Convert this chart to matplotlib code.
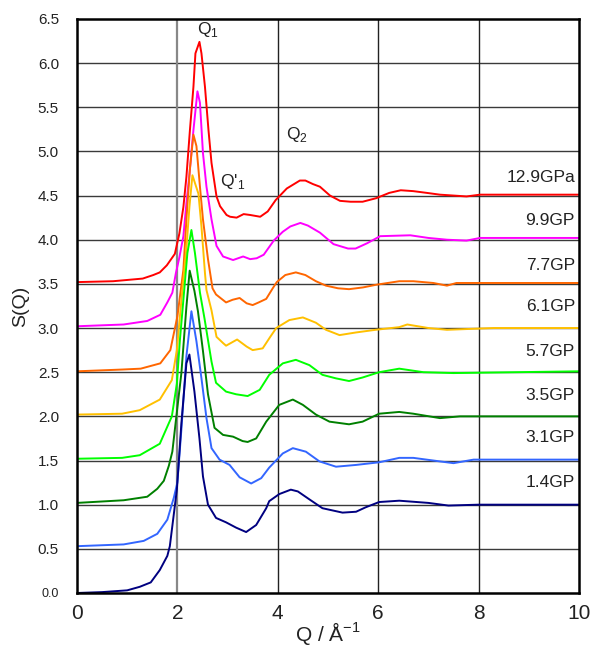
import numpy as np
import matplotlib
matplotlib.use('Agg')
import matplotlib.pyplot as plt

plt.rcParams['font.family'] = ['Liberation Sans Narrow', 'Liberation Sans', 'DejaVu Sans']
plt.rcParams['mathtext.fontset'] = 'custom'
plt.rcParams['mathtext.rm'] = 'Liberation Sans'

# S(Q) curves (already shifted by 0.5 per pressure)
q_129 = [0, 0.72, 1.31, 1.52, 1.65, 1.79, 1.95, 2.04, 2.12, 2.18, 2.25, 2.32, 2.36, 2.44, 2.48, 2.55, 2.62, 2.68,
         2.78, 2.85, 2.98, 3.05, 3.18, 3.32, 3.45, 3.65, 3.80, 3.96, 4.18, 4.44, 4.55, 4.70, 4.84, 5.04, 5.24,
         5.45, 5.69, 5.96, 6.22, 6.45, 6.7, 6.97, 7.23, 7.50, 7.76, 8.03, 10.0]
s_129 = [3.52, 3.53, 3.56, 3.60, 3.63, 3.71, 3.84, 4.07, 4.37, 4.71, 5.24, 5.73, 6.11, 6.24, 6.11, 5.73, 5.24, 4.87,
         4.49, 4.38, 4.28, 4.26, 4.25, 4.29, 4.28, 4.26, 4.32, 4.45, 4.58, 4.67, 4.67, 4.63, 4.60, 4.50, 4.44,
         4.43, 4.43, 4.47, 4.53, 4.56, 4.55, 4.53, 4.51, 4.50, 4.49, 4.51, 4.51]

q_99 = [0, 0.93, 1.40, 1.66, 1.80, 1.90, 1.97, 2.04, 2.12, 2.18, 2.25, 2.32, 2.40, 2.45, 2.51, 2.58, 2.68, 2.78,
        2.91, 3.11, 3.31, 3.45, 3.58, 3.72, 3.92, 4.10, 4.25, 4.45, 4.60, 4.84, 5.11, 5.40, 5.55, 5.78, 6.04,
        6.64, 7.0, 7.37, 7.76, 8.03, 10.0]
s_99 = [3.02, 3.04, 3.08, 3.15, 3.29, 3.40, 3.62, 3.80, 4.04, 4.41, 4.80, 5.24, 5.68, 5.55, 4.98, 4.60, 4.23, 3.93,
        3.81, 3.77, 3.81, 3.78, 3.79, 3.83, 3.99, 4.09, 4.15, 4.19, 4.16, 4.08, 3.95, 3.90, 3.90, 3.96, 4.04,
        4.05, 4.02, 4.00, 3.99, 4.02, 4.02]

q_77 = [0, 0.9, 1.27, 1.66, 1.86, 2.0, 2.12, 2.18, 2.25, 2.32, 2.38, 2.45, 2.51, 2.61, 2.70, 2.77, 2.97, 3.10,
        3.24, 3.38, 3.50, 3.62, 3.77, 3.90, 3.98, 4.15, 4.36, 4.55, 4.76, 4.96, 5.20, 5.42, 5.70, 5.96, 6.42,
        6.70, 7.10, 7.37, 7.56, 10.0]
s_77 = [2.51, 2.53, 2.54, 2.60, 2.75, 3.13, 3.66, 4.23, 4.80, 5.19, 5.06, 4.60, 4.23, 3.78, 3.45, 3.38, 3.29, 3.32,
        3.34, 3.28, 3.26, 3.29, 3.33, 3.45, 3.52, 3.60, 3.63, 3.60, 3.53, 3.48, 3.45, 3.44, 3.46, 3.49, 3.53,
        3.53, 3.51, 3.48, 3.51, 3.51]

q_61 = [0, 0.9, 1.25, 1.65, 1.89, 1.99, 2.05, 2.12, 2.18, 2.24, 2.30, 2.42, 2.48, 2.55, 2.58, 2.68, 2.78, 2.91,
        2.97, 3.19, 3.38, 3.50, 3.70, 3.85, 3.97, 4.23, 4.50, 4.76, 4.96, 5.23, 5.56, 5.95, 6.42, 6.58, 7.0,
        7.37, 8.3, 10.0]
s_61 = [2.02, 2.03, 2.07, 2.19, 2.41, 2.75, 3.13, 3.55, 3.90, 4.37, 4.73, 4.52, 4.15, 3.62, 3.43, 3.20, 2.90, 2.83,
        2.80, 2.87, 2.79, 2.75, 2.77, 2.90, 3.00, 3.09, 3.12, 3.06, 2.98, 2.92, 2.95, 2.98, 3.01, 3.04, 3.00,
        2.98, 3.00, 3.00]

q_57 = [0, 0.9, 1.25, 1.65, 1.89, 1.99, 2.05, 2.12, 2.20, 2.28, 2.35, 2.45, 2.54, 2.68, 2.77, 2.97, 3.17, 3.40,
        3.64, 3.83, 4.10, 4.36, 4.63, 4.89, 5.16, 5.42, 5.69, 6.02, 6.42, 6.9, 7.5, 10.0]
s_57 = [1.52, 1.53, 1.56, 1.69, 2.00, 2.37, 2.86, 3.32, 3.85, 4.11, 3.85, 3.40, 3.11, 2.62, 2.38, 2.28, 2.25, 2.23,
        2.30, 2.47, 2.60, 2.64, 2.58, 2.47, 2.43, 2.40, 2.44, 2.50, 2.54, 2.50, 2.49, 2.51]

q_35 = [0, 0.93, 1.40, 1.60, 1.73, 1.83, 1.90, 1.96, 2.08, 2.18, 2.245, 2.34, 2.41, 2.51, 2.61, 2.74, 2.91, 3.11,
        3.30, 3.40, 3.57, 3.77, 4.03, 4.30, 4.50, 4.76, 5.03, 5.42, 5.69, 6.02, 6.42, 6.7, 7.23, 7.63, 10.0]
s_35 = [1.02, 1.05, 1.09, 1.18, 1.27, 1.44, 1.60, 1.90, 2.49, 3.24, 3.65, 3.42, 3.19, 2.74, 2.25, 1.87, 1.79, 1.77,
        1.72, 1.71, 1.75, 1.94, 2.13, 2.19, 2.13, 2.02, 1.94, 1.91, 1.94, 2.03, 2.05, 2.03, 1.98, 2.00, 2.00]

q_31 = [0, 0.93, 1.33, 1.60, 1.80, 1.93, 2.0, 2.08, 2.18, 2.28, 2.38, 2.48, 2.58, 2.68, 2.84, 3.04, 3.24, 3.47,
        3.67, 3.83, 4.10, 4.30, 4.56, 4.83, 5.16, 5.56, 6.02, 6.42, 6.7, 7.23, 7.5, 7.9, 10.0]
s_31 = [0.53, 0.55, 0.59, 0.67, 0.83, 1.08, 1.25, 1.85, 2.68, 3.19, 2.85, 2.43, 1.98, 1.64, 1.51, 1.45, 1.31, 1.24,
        1.30, 1.42, 1.58, 1.64, 1.60, 1.49, 1.43, 1.45, 1.48, 1.53, 1.53, 1.49, 1.47, 1.51, 1.51]

q_14 = [0, 0.5, 1.0, 1.25, 1.47, 1.65, 1.80, 1.85, 1.99, 2.08, 2.18, 2.24, 2.34, 2.44, 2.51, 2.61, 2.77, 2.97,
        3.17, 3.37, 3.57, 3.77, 3.83, 4.03, 4.26, 4.40, 4.63, 4.89, 5.29, 5.56, 5.75, 6.02, 6.42, 7.0, 7.4,
        8.0, 10.0]
s_14 = [0.0, 0.01, 0.03, 0.07, 0.12, 0.26, 0.42, 0.53, 1.17, 1.92, 2.60, 2.70, 2.28, 1.75, 1.32, 1.00, 0.85, 0.80,
        0.74, 0.69, 0.77, 0.96, 1.04, 1.12, 1.17, 1.15, 1.06, 0.96, 0.91, 0.92, 0.97, 1.03, 1.045, 1.02, 0.99,
        1.00, 1.00]

labels = ['12.9GPa', '9.9GP', '7.7GP', '6.1GP', '5.7GP', '3.5GP', '3.1GP', '1.4GP']
label_y = [4.71, 4.22, 3.71, 3.24, 2.73, 2.24, 1.76, 1.25]
colors = ['#ff0000', '#ff00ff', '#ff6600', '#ffc000', '#00ff00', '#008000', '#3366ff', '#000080']
curves = [(q_129, s_129), (q_99, s_99), (q_77, s_77), (q_61, s_61),
          (q_57, s_57), (q_35, s_35), (q_31, s_31), (q_14, s_14)]

fig = plt.figure(figsize=(5.92, 6.52), dpi=100)
ax = fig.add_axes([0.130, 0.0905, 0.848, 0.8805])

# grid lines like the spreadsheet chart
for y in np.arange(0.5, 6.5, 0.5):
    ax.axhline(y, color='#3a3a3a', lw=1.0, zorder=1)
for x in [4, 6, 8]:
    ax.axvline(x, color='#222222', lw=1.0, zorder=1)
ax.axvline(2, color='#888888', lw=1.6, zorder=1)

for i in range(len(curves)):
    ax.plot(curves[i][0], curves[i][1], color=colors[i], lw=1.4, zorder=3)
    ax.text(9.92, label_y[i], labels[i], ha='right', va='center', fontsize=12.5, color='#222222')

ax.text(2.6, 6.38, 'Q$_\\mathregular{1}$', ha='center', va='center', fontsize=12.5, color='#222222')
ax.text(4.38, 5.19, 'Q$_\\mathregular{2}$', ha='center', va='center', fontsize=12.5, color='#222222')
ax.text(3.1, 4.66, "Q'$_\\mathregular{1}$", ha='center', va='center', fontsize=12.5, color='#222222')

ax.set_xlim(0, 10)
ax.set_ylim(0, 6.5)
ax.set_xticks([0, 2, 4, 6, 8, 10])
ax.set_yticks(np.arange(0, 6.51, 0.5))
ax.set_yticklabels(['%.1f' % v for v in np.arange(0, 6.51, 0.5)])
ax.tick_params(axis='x', length=0, labelsize=15, pad=8, colors='#222222')
ax.tick_params(axis='y', length=0, labelsize=11, pad=13, colors='#222222')
ax.get_yticklabels()[0].set_fontsize(9)
for sp in ax.spines.values():
    sp.set_linewidth(1.8)
    sp.set_color('black')
    sp.set_zorder(4)

ax.set_xlabel('Q / Å$^\\mathregular{-1}$', fontsize=15, labelpad=-2, color='#222222')
ax.set_ylabel('S(Q)', fontsize=14, labelpad=6, color='#222222')

plt.savefig('out.png', dpi=100)
